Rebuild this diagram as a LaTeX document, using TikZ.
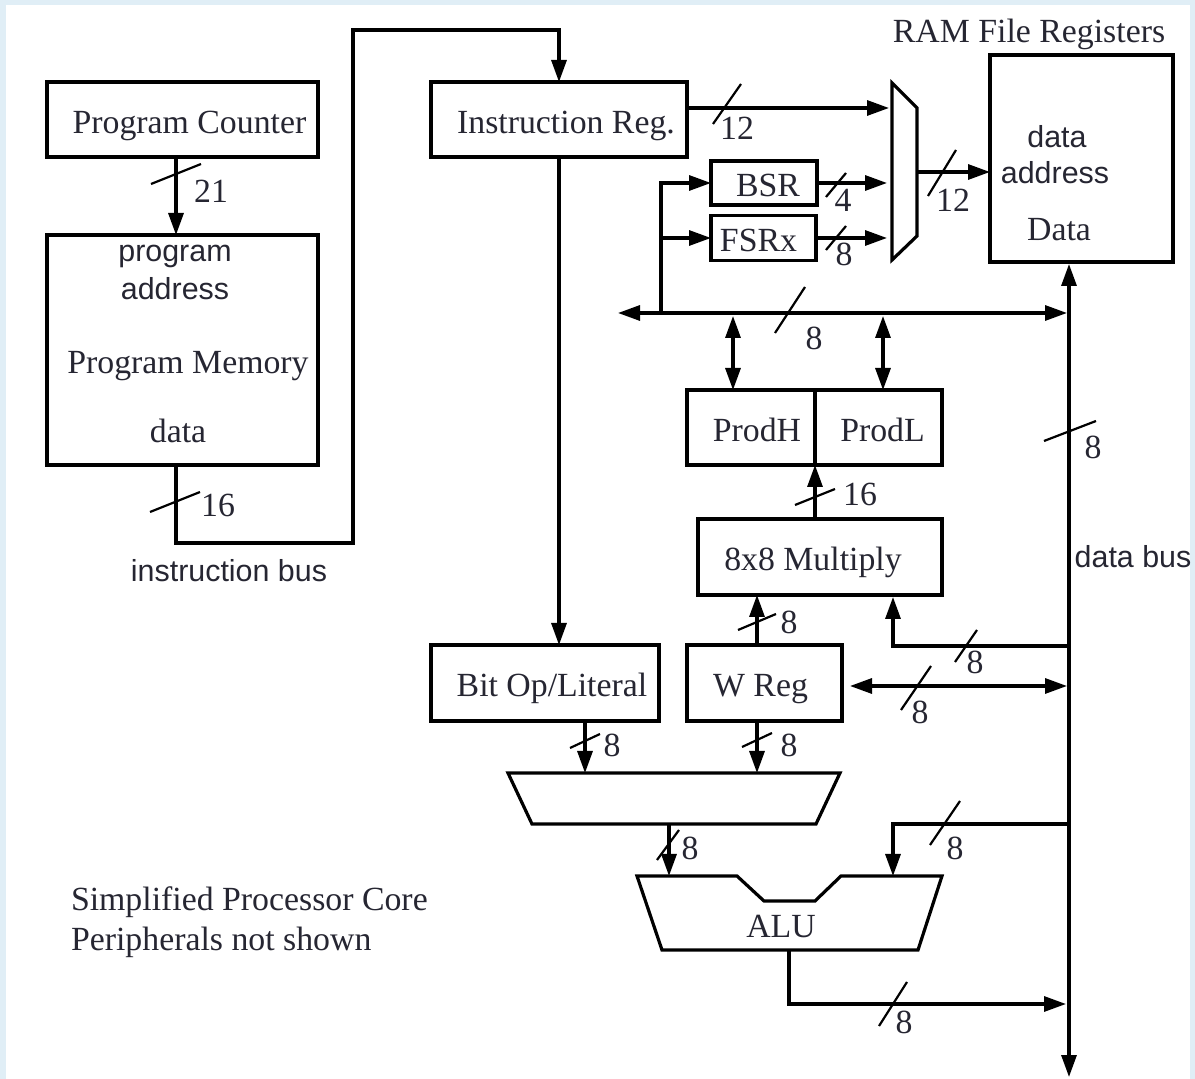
\documentclass[tikz,border=0pt]{standalone}
\usepackage{fontspec}
\setmainfont{Liberation Serif}
\newfontfamily\sansfont{Liberation Sans}
\usetikzlibrary{arrows.meta,calc}
\definecolor{framecol}{RGB}{224,238,246}
\definecolor{ink}{RGB}{38,38,50}

% bus-width tick: centre x, centre y, half width, half height
\newcommand\buswidth[4]{\draw[tick] (#1-#3,#2+#4) -- (#1+#3,#2-#4);}

\begin{document}
\begin{tikzpicture}[x=0.5pt,y=-0.5pt,
  every node/.style={inner sep=0pt, outer sep=0pt, text=ink,
    font=\fontsize{16.9}{20}\selectfont},
  sanstext/.style={font=\sansfont\fontsize{15.2}{18}\selectfont},
  box/.style={draw=black, line width=1.6pt, fill=white,
    text height=14pt, text depth=0pt},
  wire/.style={draw=black, line width=1.6pt},
  onearrow/.style={-{Triangle[length=11pt,width=7.5pt]}},
  twoarrow/.style={{Triangle[length=11pt,width=7.5pt]}-{Triangle[length=11pt,width=7.5pt]}},
  tick/.style={draw=black, line width=1.1pt},
  num/.style={}
]
\useasboundingbox (0,0) rectangle (1195,1079);
\fill[framecol] (0,0) rectangle (1195,1079);
\fill[white] (6,5) rectangle (1190,1079);

% ---------- boxes ----------
\node[box, minimum width=135.5pt, minimum height=37.5pt] (pc) at (182.5,119.5) {\kern7pt Program Counter};
\node[box, minimum width=135.5pt, minimum height=115pt] (pm) at (182.5,350) {};
\node[sanstext] (pm-t1) at (175,256) {program};
\node[sanstext] (pm-t2) at (175,289) {address};
\node (pm-t3) at (188,366) {Program Memory};
\node (pm-t4) at (178,431) {data};

\node[box, minimum width=128pt, minimum height=37.5pt] (ir) at (559,119.5) {\kern7pt Instruction Reg.};
\node[box, minimum width=53pt, minimum height=22pt] (bsr) at (764,183) {\kern4pt BSR};
\node[box, minimum width=52.5pt, minimum height=22.5pt] (fsr) at (763.5,238) {FSRx\kern5pt};

\node[box, minimum width=91.5pt, minimum height=103.5pt] (ram) at (1081.5,158.5) {};
\node (ram-title) at (1029,34) {RAM File Registers};
\node[sanstext] (ram-t1) at (1057,137) {data};
\node[sanstext] (ram-t2) at (1055,173) {address};
\node (ram-t3) at (1059,230) {Data};

\node[box, minimum width=64pt, minimum height=37.5pt] (prodh) at (751,427.5) {\kern6pt ProdH};
\node[box, minimum width=63.5pt, minimum height=37.5pt] (prodl) at (878.5,427.5) {\kern4pt ProdL};
\node[box, minimum width=122pt, minimum height=38pt] (mul) at (820,557) {8x8 Multiply\kern7pt};
\node[box, minimum width=77.5pt, minimum height=38pt] (wreg) at (764.5,683) {W Reg\kern4pt};
\node[box, minimum width=114pt, minimum height=38pt] (bitop) at (545,683) {\kern7pt Bit Op/Literal};

% address multiplexer
\draw[box] (892,83) -- (917,108) -- (917,236) -- (892,260) -- cycle;
% operand multiplexer
\draw[box] (508,773) -- (840,773) -- (816,824) -- (532,824) -- cycle;
% ALU
\draw[box] (637,876) -- (737,876) -- (764,901) -- (815,901) -- (841,876)
  -- (942,876) -- (918,950) -- (662,950) -- cycle;
\node (alu) at (781,927) {ALU};

% ---------- free texts ----------
\node[sanstext] (ibus) at (229,571) {instruction bus};
\node[sanstext] (dbus) at (1133,557) {data bus};
\node[anchor=west] (note1) at (71,902) {Simplified Processor Core};
\node[anchor=west] (note2) at (71,942) {Peripherals not shown};

% ---------- junction points ----------
\coordinate (ib1) at (353,543);
\coordinate (ib2) at (353,30);
\coordinate (muxA) at (889,108);
\coordinate (muxB) at (887,183);
\coordinate (muxC) at (887,238);
\coordinate (muxOut) at (917,172);
\coordinate (busL) at (618,313);
\coordinate (busR) at (1067,313);
\coordinate (tap) at (661,313);
\coordinate (ph) at (733,316);
\coordinate (pl) at (883,316);
\coordinate (wcol) at (757,683);
\coordinate (dbBot) at (1069,1077);
\coordinate (dbTop) at (1069,264);
\coordinate (dbM) at (1069,646);
\coordinate (mulIn) at (893,597);
\coordinate (dbW) at (1067,686);
\coordinate (m2a) at (585,773);
\coordinate (m2out) at (669,824);
\coordinate (aluA) at (669,876);
\coordinate (dbA) at (1069,824);
\coordinate (aluB) at (893,876);
\coordinate (aluOut) at (789,950);
\coordinate (dbO) at (1066,1004);

% ---------- connectors ----------
\draw[wire,onearrow] ([xshift=-3.25pt]pc.south) -- ([xshift=-3.25pt]pm.north);
\draw[wire,onearrow] ([xshift=-3.25pt]pm.south) |- (ib1) -- (ib2) -| (ir.north);
\draw[wire,onearrow] (ir.east |- muxA) -- (muxA);
\draw[wire,onearrow] (bsr.east) -- (muxB);
\draw[wire,onearrow] (fsr.east) -- (muxC);
\draw[wire,onearrow] (muxOut) -- (ram.west |- muxOut);
\draw[wire,twoarrow] (busL) -- (busR);
\draw[wire,onearrow] (tap) |- (bsr.west);
\draw[wire,onearrow] (tap |- fsr.west) -- (fsr.west);
\draw[wire,twoarrow] (ph) -- (ph |- prodh.north);
\draw[wire,twoarrow] (pl) -- (pl |- prodl.north);
\draw[wire,onearrow] (mul.north -| prodh.south east) -- (prodh.south east);
\draw[wire,onearrow] (wcol |- wreg.north) -- (wcol |- mul.south);
\draw[wire,twoarrow] (dbBot) -- (dbTop);
\draw[wire,onearrow] (dbM) -| (mulIn);
\draw[wire,twoarrow] ([xshift=4pt]wreg.east |- dbW) -- (dbW);
\draw[wire,onearrow] (ir.south) -- (ir.south |- bitop.north);
\draw[wire,onearrow] (m2a |- bitop.south) -- (m2a);
\draw[wire,onearrow] (wcol |- wreg.south) -- (wcol |- m2a);
\draw[wire,onearrow] (m2out) -- (aluA);
\draw[wire,onearrow] (dbA) -| (aluB);
\draw[wire,onearrow] (aluOut) |- (dbO);

% ---------- bus widths ----------
\buswidth{176}{174}{25}{10}
\buswidth{175}{502}{25}{10}
\buswidth{727}{104}{14}{20}
\buswidth{836}{185}{10}{12}
\buswidth{836}{238}{10}{12}
\buswidth{942}{173}{14}{23}
\buswidth{790}{310}{15}{23}
\buswidth{1070}{431}{26}{10}
\buswidth{815}{497}{20}{8}
\buswidth{757}{622}{19}{8}
\buswidth{966}{646}{11}{16}
\buswidth{916}{688}{15}{22}
\buswidth{585}{741}{15}{7}
\buswidth{757}{740}{15}{7}
\buswidth{668}{845}{11}{15}
\buswidth{945}{823}{15}{22}
\buswidth{893}{1004}{14}{22}

\node[num] (w21) at (211,191) {21};
\node[num] (w16a) at (218,505) {16};
\node[num] (w12a) at (737,128) {12};
\node[num] (w4) at (843,200) {4};
\node[num] (w8f) at (844,254) {8};
\node[num] (w12b) at (953,200) {12};
\node[num] (w8bus) at (814,338) {8};
\node[num] (w8db) at (1093,447) {8};
\node[num] (w16b) at (860,494) {16};
\node[num] (w8wm) at (789,622) {8};
\node[num] (w8bm) at (975,662) {8};
\node[num] (w8bw) at (920,712) {8};
\node[num] (w8bo) at (612,745) {8};
\node[num] (w8wd) at (789,745) {8};
\node[num] (w8mx) at (690,848) {8};
\node[num] (w8ba) at (955,848) {8};
\node[num] (w8ao) at (904,1022) {8};
\end{tikzpicture}
\end{document}
